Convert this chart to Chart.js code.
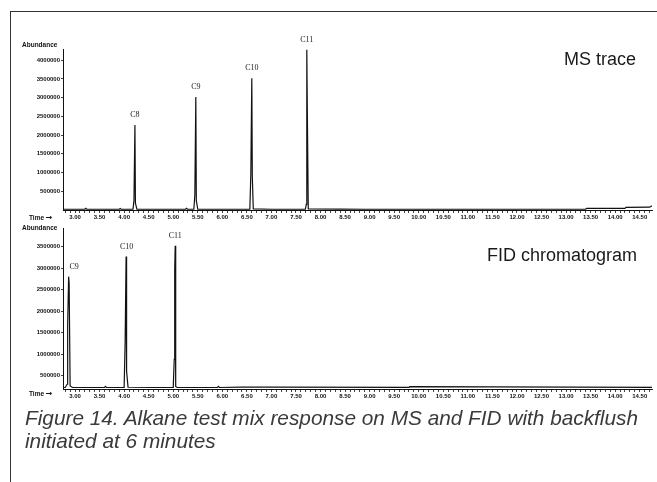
<!DOCTYPE html>
<html>
<head>
<meta charset="utf-8">
<script src="https://cdn.jsdelivr.net/npm/chart.js@4/dist/chart.umd.min.js"></script>
<style>
  html,body{margin:0;padding:0;background:#fff;}
  body{width:657px;height:482px;position:relative;overflow:hidden;font-family:"Liberation Sans",Arial,sans-serif;}
  .frame{position:absolute;left:10px;top:11px;width:660px;height:480px;border-top:1px solid #333;border-left:1px solid #333;}
  .box{position:absolute;left:0;width:657px;}
  .small{position:absolute;font-weight:bold;font-size:6.5px;color:#111;white-space:nowrap;}
  .title{position:absolute;font-size:18px;color:#1a1a1a;white-space:nowrap;}
  .caption{position:absolute;left:25px;top:406px;font-size:20.8px;font-style:italic;color:#3a3a3a;line-height:23px;white-space:nowrap;}
</style>
</head>
<body>
<div class="frame"></div>
<div class="box" style="top:30px;height:200px"><canvas id="ms"></canvas></div>
<div class="box" style="top:220px;height:190px"><canvas id="fid"></canvas></div>
<div class="small" style="left:22px;top:41px">Abundance</div>
<div class="small" style="left:29px;top:213px">Time <span style="font-family:'DejaVu Sans';font-size:8px">&#8594;</span></div>
<div class="small" style="left:22px;top:224px">Abundance</div>
<div class="small" style="left:29px;top:389px">Time <span style="font-family:'DejaVu Sans';font-size:8px">&#8594;</span></div>
<div class="title" style="left:564px;top:49px">MS trace</div>
<div class="title" style="left:487px;top:245px">FID chromatogram</div>
<div class="caption">Figure 14. Alkane test mix response on MS and FID with backflush<br>initiated at 6 minutes</div>
<script>
// ---- data ----
const xTickLabels = ['3.00','3.50','4.00','4.50','5.00','5.50','6.00','6.50','7.00','7.50','8.00','8.50','9.00','9.50','10.00','10.50','11.00','11.50','12.00','12.50','13.00','13.50','14.00','14.50'];
const msYTicks = [500000,1000000,1500000,2000000,2500000,3000000,3500000,4000000];
const fidYTicks = [500000,1000000,1500000,2000000,2500000,3000000,3500000];

const msTime      = [2.76, 3.20, 3.22, 3.24, 3.60, 3.90, 3.92, 3.94, 4.18, 4.20, 4.22, 4.23, 4.26, 4.60, 5.25, 5.27, 5.29, 5.42, 5.44, 5.46, 5.47, 5.50, 5.80, 6.30, 6.56, 6.58, 6.60, 6.61, 6.63, 7.00, 7.69, 7.71, 7.72, 7.73, 7.75, 8.40, 8.90, 13.40, 13.42, 14.20, 14.22, 14.70, 14.75];
const msAbundance = [20000, 20000, 45000, 20000, 20000, 20000, 40000, 20000, 20000, 250000, 2270000, 180000, 20000, 20000, 20000, 45000, 20000, 20000, 400000, 3020000, 250000, 20000, 20000, 20000, 20000, 950000, 3520000, 900000, 30000, 20000, 20000, 150000, 4280000, 2750000, 30000, 25000, 20000, 25000, 45000, 45000, 70000, 75000, 110000];

const fidTime      = [2.76, 2.80, 2.84, 2.85, 2.87, 2.88, 2.90, 2.95, 3.60, 3.62, 3.64, 4.00, 4.02, 4.04, 4.05, 4.08, 4.60, 5.00, 5.02, 5.03, 5.04, 5.05, 5.08, 5.90, 5.92, 5.94, 6.40, 7.00, 9.80, 9.82, 14.75];
const fidAbundance = [225000, 225000, 300000, 1700000, 2800000, 2650000, 260000, 225000, 225000, 250000, 225000, 225000, 1250000, 3270000, 600000, 230000, 225000, 225000, 880000, 2960000, 3520000, 250000, 225000, 225000, 250000, 225000, 235000, 235000, 230000, 245000, 230000];

const msPeakNames   = ['C8','C9','C10','C11'];
const msPeakTimes   = [4.22, 5.46, 6.60, 7.72];
const msPeakHeights = [2270000, 3020000, 3520000, 4280000];
const fidPeakNames   = ['C9','C10','C11'];
const fidLabelTimes  = [2.98, 4.05, 5.04];
const fidPeakHeights = [2800000, 3270000, 3520000];

// ---- chart helpers ----
const minorTicks = [];
for (let i = 28; i <= 147; i++) minorTicks.push({value: i / 10});
const labelSet = new Set(xTickLabels);

const peakLabelPlugin = {
  id: 'peakLabels',
  afterDatasetsDraw(chart, args, opts) {
    const {ctx, scales} = chart;
    ctx.save();
    ctx.font = '8px "Liberation Serif", "Times New Roman", serif';
    ctx.fillStyle = '#222';
    ctx.textAlign = 'center';
    ctx.textBaseline = 'middle';
    opts.names.forEach((n, i) => {
      const x = scales.x.getPixelForValue(opts.times[i]);
      const y = scales.y.getPixelForValue(opts.heights[i]) - opts.gap;
      ctx.fillText(n, x, y);
    });
    ctx.restore();
  }
};

function makeChart(id, times, values, yMin, yMax, yTicks, names, lblTimes, heights, xHeight, padTop) {
  const pts = times.map((t, i) => ({x: t, y: values[i]}));
  return new Chart(document.getElementById(id), {
    type: 'scatter',
    data: {datasets: [{data: pts, showLine: true, borderColor: '#111', borderWidth: 1.2, pointRadius: 0, tension: 0}]},
    options: {
      responsive: true, maintainAspectRatio: false, animation: false,
      layout: {padding: {top: padTop, right: 5, left: 0, bottom: 0}},
      plugins: {legend: {display: false}, tooltip: {enabled: false},
        peakLabels: {names: names, times: lblTimes, heights: heights, gap: 10}},
      scales: {
        x: {
          type: 'linear', min: 2.755, max: 14.75,
          afterBuildTicks: s => { s.ticks = minorTicks.map(t => ({value: t.value})); },
          afterFit: s => { s.height = xHeight; },
          ticks: {autoSkip: false, maxRotation: 0, minRotation: 0, padding: 1, color: '#111',
            font: {family: '"Liberation Sans", Arial', size: 6, weight: 'bold'},
            callback: v => labelSet.has(Number(v).toFixed(2)) ? Number(v).toFixed(2) : ''},
          grid: {drawOnChartArea: false, tickLength: 3, color: '#111', lineWidth: 0.8},
          border: {color: '#111', width: 1}
        },
        y: {
          min: yMin, max: yMax,
          afterBuildTicks: s => { s.ticks = yTicks.map(v => ({value: v})); },
          afterFit: s => { s.width = 63; },
          ticks: {autoSkip: false, padding: 1, color: '#111',
            font: {family: '"Liberation Sans", Arial', size: 6, weight: 'bold'},
            callback: v => String(v)},
          grid: {drawOnChartArea: false, tickLength: 2, color: '#111', lineWidth: 0.8},
          border: {color: '#111', width: 1}
        }
      }
    },
    plugins: [peakLabelPlugin]
  });
}

makeChart('ms', msTime, msAbundance, 0, 4300000, msYTicks, msPeakNames, msPeakTimes, msPeakHeights, 20, 19);
makeChart('fid', fidTime, fidAbundance, 190000, 3930000, fidYTicks, fidPeakNames, fidLabelTimes, fidPeakHeights, 21, 8);
</script>
</body>
</html>
